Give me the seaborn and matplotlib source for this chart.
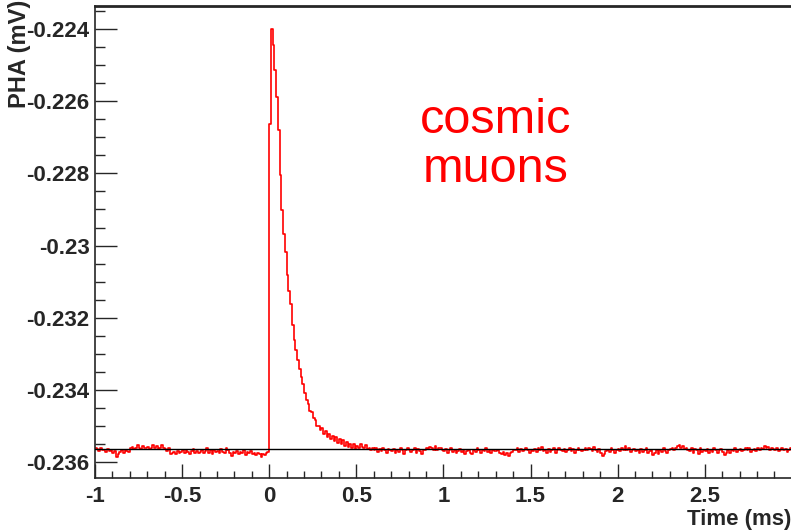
import numpy as np
import pandas as pd
import matplotlib
matplotlib.use("Agg")
import matplotlib.pyplot as plt
import seaborn as sns
from matplotlib.ticker import MultipleLocator, FixedLocator, FixedFormatter

# Histogram bins (ms) and baseline level (mV)
bin_width = 0.01
baseline = -0.23566
fit_level = -0.23563

# Noise before the pulse, t = -1 .. 0 ms, offsets in units of 2e-5 mV
pre_offsets = [
    3, 1, -2, 2, -1, 0, -3, 1, -2, 0,
    -4, -2, -10, -6, -3, -1, -5, 0, -2, -3,
    2, 4, 1, 3, 6, 2, 1, 5, 3, 2,
    4, 1, 3, 7, 2, 5, 1, 3, 6, 2,
    1, -2, 3, -6, -4, -3, -6, -2, -5, -3,
    -1, -4, 0, -3, -6, -2, 1, -4, -2, -5,
    -3, 0, -5, -2, 2, -4, -1, -6, 0, -3,
    -2, -4, 1, -3, -5, 2, -1, -4, -8, -3,
    -5, -2, -6, -3, -4, -1, -7, -3, -5, -2,
    -6, -4, -7, -5, -6, -10, -6, -7, -4, -3,
]

# Pulse, t = 0 .. 0.5 ms (mV)
pulse = [
    -0.22663, -0.22400, -0.22444, -0.22514, -0.22588,
    -0.22680, -0.22804, -0.22901, -0.22968, -0.23018,
    -0.23081, -0.23126, -0.23162, -0.23220, -0.23261,
    -0.23289, -0.23317, -0.23342, -0.23364, -0.23383,
    -0.23408, -0.23428, -0.23440, -0.23458, -0.23462,
    -0.23478, -0.23484, -0.23499, -0.23500, -0.23512,
    -0.23506, -0.23522, -0.23514, -0.23531, -0.23522,
    -0.23536, -0.23528, -0.23541, -0.23532, -0.23546,
    -0.23536, -0.23550, -0.23540, -0.23555, -0.23544,
    -0.23557, -0.23549, -0.23562, -0.23550, -0.23564,
]

# Noise after the pulse, t = 0.5 .. 3 ms, offsets in units of 2e-5 mV
post_offsets = [
    5, 3, 8, 4, 2, 6, 1, 3, -1, 2,
    0, 2, -3, 1, -2, 3, 0, -4, 1, -1,
    -2, 1, -5, 0, -3, 2, -1, -6, 0, 2,
    -1, -3, 0, 2, -4, 1, -2, -6, -1, 0,
    3, 1, 4, 2, 0, 5, -1, 2, 3, 0,
    -2, 1, -4, -1, 3, -3, 0, -5, -2, 1,
    -3, -1, -6, -2, 0, -4, -6, -1, -3, 2,
    -1, -4, 0, -2, 3, -3, -1, -5, 0, -2,
    -2, 0, -4, -6, -3, -7, -5, -8, -5, -3,
    -1, 0, 2, -3, 1, -2, 0, 3, -1, -4,
    0, -2, 1, -3, 2, -1, 4, -2, 0, -5,
    1, -3, 0, 2, -4, -1, 3, 0, -2, 1,
    -3, 0, 2, -2, 1, -5, 0, 3, -1, -2,
    0, 2, -1, 3, 1, -2, 4, 0, -3, 1,
    -4, -8, -6, -2, 0, -3, 2, -1, -4, 0,
    1, -2, 3, 0, 5, -1, 2, -3, 0, 1,
    -2, 0, -4, 1, -3, -1, 2, -5, -2, 0,
    -7, -4, -1, -6, 0, -3, 2, -2, -5, -1,
    1, 3, -1, 2, 5, 6, 3, 5, 1, 2,
    0, -2, 3, -4, 1, -1, -6, 2, -3, 0,
    -2, 1, -4, 0, -3, 2, -1, -5, 0, 1,
    -3, -7, -5, -1, -4, 0, -2, 2, -3, -1,
    1, -2, 0, 3, -1, 2, -3, 0, 1, -2,
    2, 0, 3, 1, 5, 2, 4, 0, 3, 1,
    -1, 2, -2, 0, 3, -1, 1, -3, 0, 2,
]

x_ticks = [-1, -0.5, 0, 0.5, 1, 1.5, 2, 2.5]
x_labels = ["-1", "-0.5", "0", "0.5", "1", "1.5", "2", "2.5"]
y_ticks = [-0.236, -0.234, -0.232, -0.23, -0.228, -0.226, -0.224]
y_labels = ["-0.236", "-0.234", "-0.232", "-0.23", "-0.228", "-0.226", "-0.224"]

# Build histogram contents
values = ([baseline + o * 2e-5 for o in pre_offsets] + pulse
          + [baseline + o * 2e-5 for o in post_offsets])
edges = -1.0 + bin_width * np.arange(len(values) + 1)
df = pd.DataFrame({"t": np.append(edges[:-1], edges[-1]),
                   "pha": values + [values[-1]]})

sns.set_style("ticks")
plt.rcParams["font.family"] = ["Liberation Sans", "DejaVu Sans"]

fig = plt.figure(figsize=(7.91, 5.31), dpi=100)
ax = fig.add_axes([95 / 791, 53 / 531, 1 - 95 / 791, 472 / 531])

sns.lineplot(data=df, x="t", y="pha", drawstyle="steps-post", color="#ff0000",
             linewidth=1.2, estimator=None, sort=False, ax=ax)
ax.axhline(fit_level, color="black", linewidth=1.0, zorder=3)

ax.set_xlim(-1, 2.995)
ax.set_ylim(-0.236443, -0.22336)

ax.xaxis.set_major_locator(FixedLocator(x_ticks))
ax.xaxis.set_major_formatter(FixedFormatter(x_labels))
ax.xaxis.set_minor_locator(MultipleLocator(0.1))
ax.yaxis.set_major_locator(FixedLocator(y_ticks))
ax.yaxis.set_major_formatter(FixedFormatter(y_labels))
ax.yaxis.set_minor_locator(MultipleLocator(0.0005))

ax.tick_params(axis="x", which="major", direction="in", length=10, width=1.0,
               labelsize=16, pad=6)
ax.tick_params(axis="x", which="minor", direction="in", length=5, width=1.0)
ax.tick_params(axis="y", which="major", direction="in", length=16, width=1.0,
               labelsize=16, pad=4)
ax.tick_params(axis="y", which="minor", direction="in", length=7, width=1.0)
for lab in ax.get_xticklabels() + ax.get_yticklabels():
    lab.set_fontweight("bold")

for side in ["left", "bottom"]:
    ax.spines[side].set_linewidth(1.2)
ax.spines["top"].set_linewidth(2.0)
ax.spines["right"].set_visible(False)

ax.set_xlabel("")
ax.set_ylabel("")
fig.text(1.0, 12 / 531, "Time (ms)", ha="right", va="center",
         fontsize=16, fontweight="bold")
fig.text(20 / 791, 1.0, "PHA (mV)", ha="center", va="top", rotation=90,
         fontsize=17, fontweight="bold")

ax.text(1.3, -0.22721, "cosmic\nmuons", color="#ff0000", fontsize=35,
        ha="center", va="center", linespacing=1.1)

fig.savefig("out.png", dpi=100)
